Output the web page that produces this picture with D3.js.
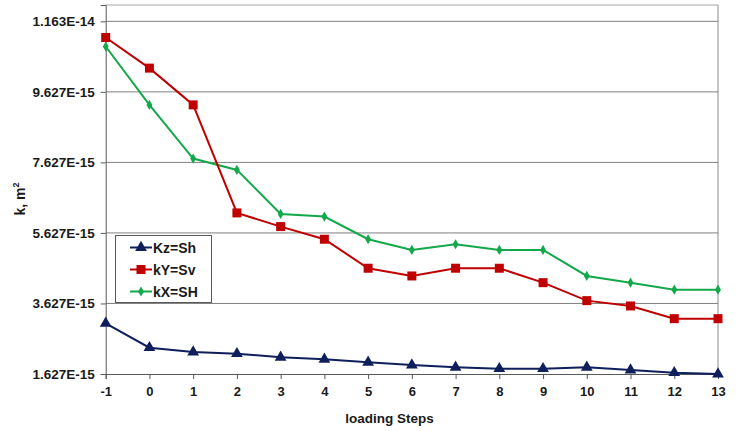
<!DOCTYPE html>
<html>
<head>
<meta charset="utf-8">
<script src="https://cdn.jsdelivr.net/npm/d3@7"></script>
<style>
  body { margin: 0; background: #fff; }
  svg { font-family: "Liberation Sans", Arial, sans-serif; font-weight: bold; }
</style>
</head>
<body>
<div id="chart"></div>
<script>
// loading steps on the x axis
const steps = [-1, 0, 1, 2, 3, 4, 5, 6, 7, 8, 9, 10, 11, 12, 13];

// permeability values (m^2)
const kzSh = [3.065e-15, 2.373e-15, 2.251e-15, 2.203e-15, 2.101e-15, 2.044e-15, 1.959e-15, 1.882e-15,
  1.817e-15, 1.777e-15, 1.777e-15, 1.817e-15, 1.740e-15, 1.664e-15, 1.627e-15];
const kySv = [11.168e-15, 10.30e-15, 9.258e-15, 6.195e-15, 5.807e-15, 5.448e-15, 4.626e-15, 4.407e-15,
  4.626e-15, 4.626e-15, 4.217e-15, 3.707e-15, 3.556e-15, 3.196e-15, 3.196e-15];
const kxSH = [10.913e-15, 9.258e-15, 7.735e-15, 7.414e-15, 6.166e-15, 6.09e-15, 5.448e-15, 5.145e-15,
  5.306e-15, 5.145e-15, 5.145e-15, 4.407e-15, 4.217e-15, 4.019e-15, 4.019e-15];

// y tick values
const yTicks = [1.627e-15, 3.627e-15, 5.627e-15, 7.627e-15, 9.627e-15, 1.1627e-14];

const seriesNames = ["Kz=Sh", "kY=Sv", "kX=SH"];

const width = 736, height = 431;
const plot = { left: 105.7, right: 718, top: 5, bottom: 374 };

const svg = d3.select("#chart")
  .append("svg")
  .attr("width", width)
  .attr("height", height);

const xScale = d3.scaleLinear()
  .domain([-1, 13])
  .range([plot.left, plot.right]);

const yScale = d3.scaleLinear()
  .domain([1.627e-15, 12.09e-15])
  .range([plot.bottom, plot.top]);

// plot area frame (top and right)
svg.append("line")
  .attr("x1", plot.left).attr("x2", plot.right)
  .attr("y1", plot.top).attr("y2", plot.top)
  .attr("stroke", "#a6a6a6").attr("stroke-width", 1);
svg.append("line")
  .attr("x1", plot.right).attr("x2", plot.right)
  .attr("y1", plot.top).attr("y2", plot.bottom)
  .attr("stroke", "#8c8c8c").attr("stroke-width", 1);

// horizontal gridlines
svg.append("g")
  .selectAll("line")
  .data(yTicks.slice(1))
  .enter()
  .append("line")
  .attr("x1", plot.left).attr("x2", plot.right)
  .attr("y1", d => yScale(d)).attr("y2", d => yScale(d))
  .attr("stroke", "#808080").attr("stroke-width", 1);

// Y-axis
const yAxis = d3.axisLeft(yScale)
  .tickValues(yTicks)
  .tickSize(5)
  .tickPadding(6)
  .tickFormat(d => d.toExponential(3).toUpperCase());
const yG = svg.append("g")
  .attr("transform", `translate(${plot.left},0)`)
  .call(yAxis);
yG.select(".domain").attr("stroke", "#595959");
yG.selectAll(".tick line").attr("stroke", "#595959");
yG.selectAll(".tick text")
  .attr("fill", "#1a1a1a")
  .style("font-size", "13.5px")
  .style("font-family", "Liberation Sans, Arial, sans-serif")
  .style("font-weight", "bold");

// X-axis
const xAxis = d3.axisBottom(xScale)
  .tickValues(steps)
  .tickSize(5)
  .tickPadding(8)
  .tickFormat(d => String(d));
const xG = svg.append("g")
  .attr("transform", `translate(0,${plot.bottom})`)
  .call(xAxis);
xG.select(".domain").attr("stroke", "#595959");
xG.selectAll(".tick line").attr("stroke", "#595959");
xG.selectAll(".tick text")
  .attr("fill", "#1a1a1a")
  .style("font-size", "13px")
  .style("font-family", "Liberation Sans, Arial, sans-serif")
  .style("font-weight", "bold");

// axis labels
svg.append("text")
  .attr("x", 389.5)
  .attr("y", 423)
  .style("text-anchor", "middle")
  .style("font-size", "13.5px")
  .attr("fill", "#1a1a1a")
  .text("loading Steps");

const yLabel = svg.append("text")
  .attr("transform", "translate(25,199) rotate(-90)")
  .style("text-anchor", "middle")
  .style("font-size", "14px")
  .attr("fill", "#1a1a1a");
yLabel.append("tspan").text("k, m");
yLabel.append("tspan").attr("dy", -6).style("font-size", "9px").text("2");

// series
const series = [
  { name: seriesNames[0], values: kzSh, color: "#0f1f5c", marker: d3.symbolTriangle, size: 60 },
  { name: seriesNames[1], values: kySv, color: "#c00000", marker: d3.symbolSquare, size: 81 },
  { name: seriesNames[2], values: kxSH, color: "#13a84a", marker: d3.symbolDiamond, size: 30 }
];

const line = d3.line()
  .x((d, i) => xScale(steps[i]))
  .y(d => yScale(d));

// draw in reverse order so Kz is on top
series.slice().reverse().forEach(s => {
  svg.append("path")
    .datum(s.values)
    .attr("fill", "none")
    .attr("stroke", s.color)
    .attr("stroke-width", 2)
    .attr("d", line);

  svg.append("g")
    .selectAll("path")
    .data(s.values)
    .enter()
    .append("path")
    .attr("transform", (d, i) => `translate(${xScale(steps[i])},${yScale(d)})`)
    .attr("d", d3.symbol().type(s.marker).size(s.size))
    .attr("fill", s.color);
});

// legend
const legend = svg.append("g");
legend.append("rect")
  .attr("x", 115.5).attr("y", 235.5)
  .attr("width", 96).attr("height", 67)
  .attr("fill", "#fff")
  .attr("stroke", "#595959");

series.forEach((s, i) => {
  const ly = 247.5 + i * 22;
  legend.append("line")
    .attr("x1", 130).attr("x2", 152)
    .attr("y1", ly).attr("y2", ly)
    .attr("stroke", s.color).attr("stroke-width", 2);
  legend.append("path")
    .attr("transform", `translate(141,${ly})`)
    .attr("d", d3.symbol().type(s.marker).size(s.size))
    .attr("fill", s.color);
  legend.append("text")
    .attr("x", 153)
    .attr("y", ly)
    .attr("dy", "0.36em")
    .style("font-size", "14px")
    .attr("fill", "#1a1a1a")
    .text(s.name);
});
</script>
</body>
</html>
